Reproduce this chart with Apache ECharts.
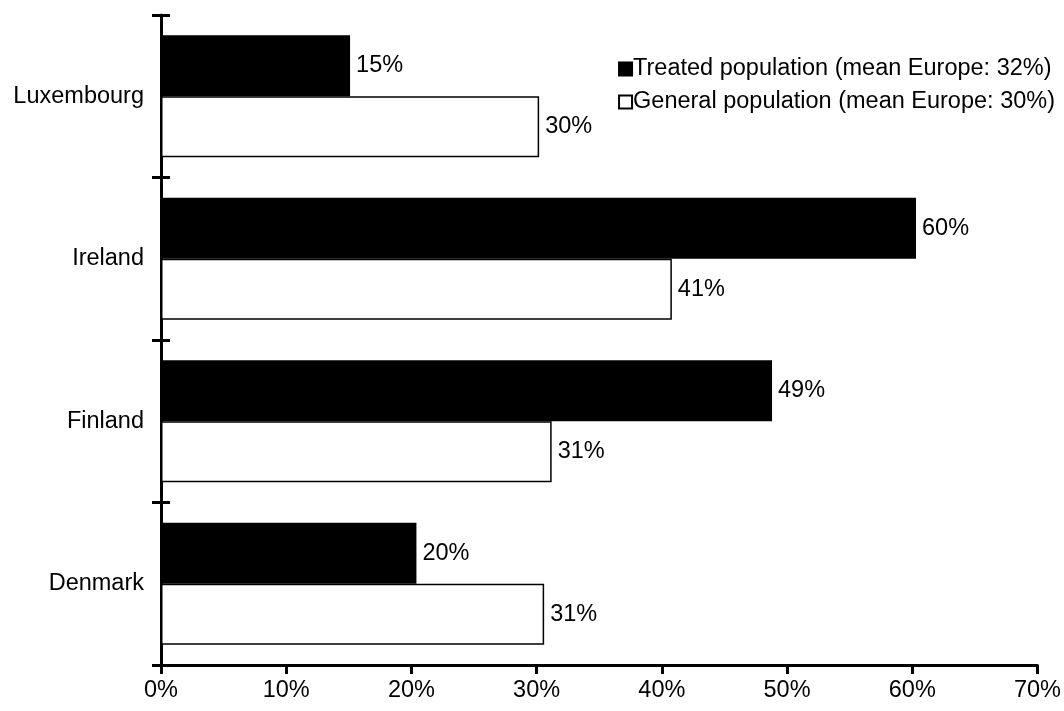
<!DOCTYPE html>
<html>
<head>
<meta charset="utf-8">
<script src="https://cdn.jsdelivr.net/npm/echarts@6/dist/echarts.min.js"></script>
<style>
  html, body { margin: 0; padding: 0; background: #fff; }
  #chart { width: 1064px; height: 711px; }
</style>
</head>
<body>
<div id="chart"></div>
<script>
// categories from top to bottom
const countries = ['Luxembourg', 'Ireland', 'Finland', 'Denmark'];
const treatedValues = [15.1, 60.3, 48.8, 20.4];
const generalValues = [30.2, 40.8, 31.2, 30.6];
const treatedName = 'Treated population (mean Europe: 32%)';
const generalName = 'General population (mean Europe: 30%)';

const font = 'Liberation Sans, Arial, sans-serif';
const fs = 23.5;
const labelOpt = {
    show: true,
    position: 'right',
    distance: 6,
    color: '#000',
    fontFamily: font,
    fontSize: fs,
    formatter: function (p) { return Math.round(p.value) + '%'; }
};

const option = {
    animation: false,
    textStyle: { fontFamily: font },
    grid: { left: 161, right: 26, top: 15, bottom: 46, containLabel: false },
    legend: {
        data: [treatedName, generalName],
        orient: 'vertical',
        right: 4,
        top: 52,
        itemGap: 9,
        itemWidth: 13,
        itemHeight: 13,
        icon: 'rect',
        textStyle: { color: '#000', fontSize: fs, fontFamily: font, padding: [0, 0, 0, -4] }
    },
    xAxis: {
        type: 'value',
        min: 0,
        max: 70,
        interval: 10,
        splitLine: { show: false },
        axisLine: { show: true, lineStyle: { color: '#000', width: 3 } },
        axisTick: { show: true, length: 9, lineStyle: { color: '#000', width: 3 } },
        axisLabel: { color: '#000', fontSize: fs, margin: 14, formatter: '{value}%' }
    },
    yAxis: [
        {
            type: 'category',
            data: countries,
            inverse: true,
            axisLine: { show: true, lineStyle: { color: '#000', width: 3 } },
            axisTick: { show: true, length: 9, lineStyle: { color: '#000', width: 3 } },
            axisLabel: { color: '#000', fontSize: fs, margin: 17 }
        },
        {
            // second axis only for the inner half of the crossing ticks
            type: 'category',
            data: countries,
            inverse: true,
            position: 'left',
            axisLine: { show: false },
            axisTick: { show: true, inside: true, length: 9, lineStyle: { color: '#000', width: 3 } },
            axisLabel: { show: false }
        }
    ],
    series: [
        {
            name: treatedName,
            type: 'bar',
            data: treatedValues,
            barWidth: 61,
            barGap: '0%',
            itemStyle: { color: '#000', borderColor: '#000', borderWidth: 1.5 },
            label: labelOpt
        },
        {
            name: generalName,
            type: 'bar',
            data: generalValues,
            barWidth: 61,
            barGap: '0%',
            itemStyle: { color: '#fff', borderColor: '#000', borderWidth: 1.5 },
            label: labelOpt
        }
    ]
};

const myChart = echarts.init(document.getElementById('chart'));
myChart.setOption(option);
</script>
</body>
</html>
